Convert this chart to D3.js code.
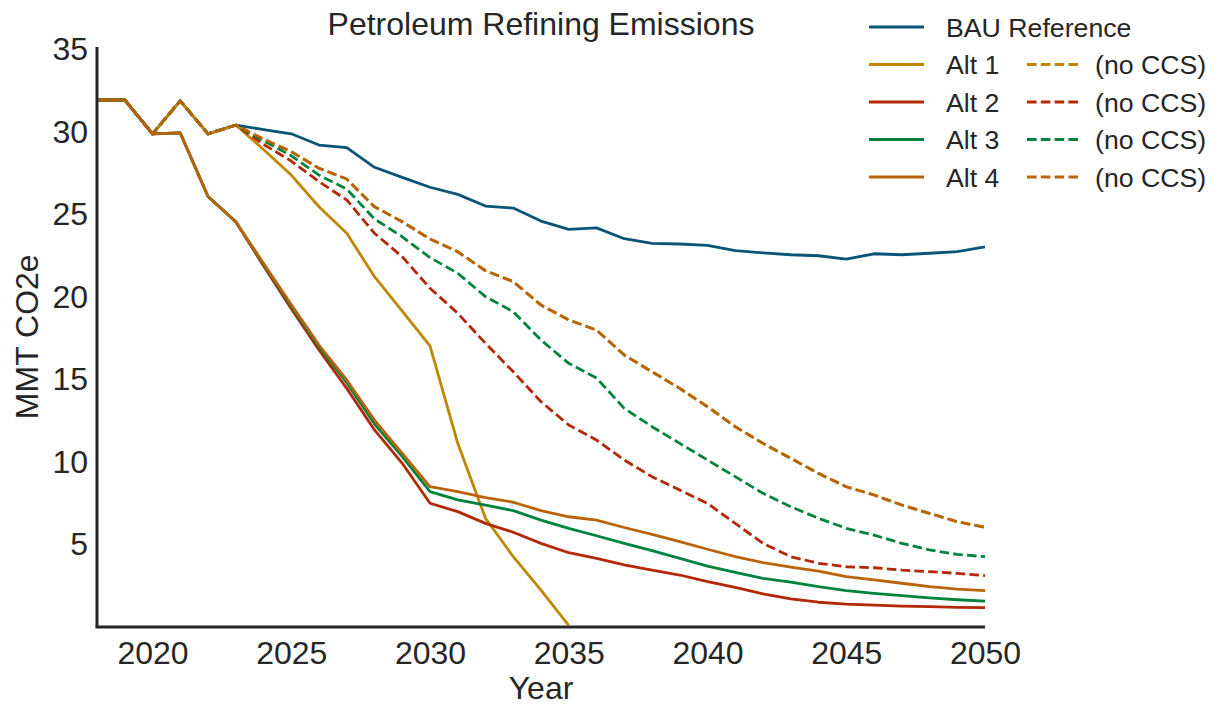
<!DOCTYPE html>
<html>
<head>
<meta charset="utf-8">
<script src="https://cdn.jsdelivr.net/npm/d3@7"></script>
<style>
  html, body { margin: 0; padding: 0; background: #fff; }
  svg text { font-family: "Liberation Sans", Arial, sans-serif; fill: #262626; }
</style>
</head>
<body>
<svg id="chart" width="1228" height="706"></svg>
<script>
// Years on the horizontal axis
const years = d3.range(2018, 2051);

// Emissions in MMT CO2e, one value per year from 2018
const bauReference = [31.85, 31.85, 29.8, 31.8, 29.8, 30.33, 30.06, 29.8, 29.12, 28.96, 27.77, 27.16, 26.56, 26.13, 25.42, 25.3, 24.51, 24.01, 24.1, 23.44, 23.16, 23.12, 23.04, 22.72, 22.58, 22.47, 22.41, 22.21, 22.53, 22.47, 22.56, 22.66, 22.94];
const alt1 = [31.85, 31.85, 29.8, 31.8, 29.8, 30.33, 28.85, 27.3, 25.38, 23.77, 21.14, 19.05, 16.95, 11.04, 6.5, 4.17, 2.15, 0.0];
const alt2 = [31.85, 31.85, 29.8, 29.85, 26.0, 24.47, 21.8, 19.2, 16.7, 14.37, 11.85, 9.83, 7.41, 6.9, 6.19, 5.65, 4.98, 4.41, 4.07, 3.68, 3.36, 3.06, 2.66, 2.31, 1.91, 1.62, 1.41, 1.3, 1.24, 1.18, 1.14, 1.1, 1.08];
const alt3 = [31.85, 31.85, 29.8, 29.85, 26.0, 24.47, 21.9, 19.35, 16.88, 14.72, 12.21, 10.23, 8.11, 7.61, 7.3, 6.96, 6.39, 5.89, 5.44, 4.98, 4.54, 4.07, 3.6, 3.22, 2.86, 2.63, 2.35, 2.11, 1.95, 1.81, 1.67, 1.56, 1.48];
const alt4 = [31.85, 31.85, 29.8, 29.85, 26.0, 24.47, 21.95, 19.45, 17.0, 14.88, 12.45, 10.43, 8.41, 8.11, 7.75, 7.47, 6.96, 6.59, 6.39, 5.94, 5.52, 5.08, 4.62, 4.17, 3.81, 3.54, 3.3, 2.96, 2.76, 2.56, 2.35, 2.21, 2.11];
const alt1NoCCS = [31.85, 31.85, 29.8, 31.8, 29.8, 30.33, 29.48, 28.72, 27.71, 27.06, 25.38, 24.47, 23.42, 22.65, 21.5, 20.84, 19.42, 18.52, 17.91, 16.39, 15.38, 14.37, 13.26, 12.05, 11.04, 10.13, 9.22, 8.41, 7.91, 7.3, 6.8, 6.29, 5.95];
const alt2NoCCS = [31.85, 31.85, 29.8, 31.8, 29.8, 30.33, 29.16, 28.15, 26.9, 25.79, 23.77, 22.35, 20.44, 18.92, 17.1, 15.38, 13.56, 12.15, 11.24, 10.03, 9.02, 8.21, 7.4, 6.19, 4.98, 4.17, 3.77, 3.56, 3.5, 3.36, 3.26, 3.16, 3.02];
const alt3NoCCS = [31.85, 31.85, 29.8, 31.8, 29.8, 30.33, 29.38, 28.47, 27.3, 26.45, 24.64, 23.56, 22.3, 21.35, 19.93, 19.02, 17.3, 15.89, 15.0, 13.16, 12.05, 11.04, 10.03, 9.02, 8.01, 7.2, 6.5, 5.89, 5.48, 4.98, 4.58, 4.31, 4.17];
const alt4NoCCS = [31.85, 31.85, 29.8, 31.8, 29.8, 30.33, 29.48, 28.72, 27.71, 27.06, 25.38, 24.47, 23.42, 22.65, 21.5, 20.84, 19.42, 18.52, 17.91, 16.39, 15.38, 14.37, 13.26, 12.05, 11.04, 10.13, 9.22, 8.41, 7.91, 7.3, 6.8, 6.29, 5.95];

// Axis ticks
const xTicks = [2020, 2025, 2030, 2035, 2040, 2045, 2050];
const yTicks = [5, 10, 15, 20, 25, 30, 35];

// Series, in drawing order (solid first, dashed "no CCS" on top)
const series = [
  { name: "BAU Reference", values: bauReference, color: "#0b5476", dashed: false },
  { name: "Alt 1", values: alt1, color: "#bf8700", dashed: false },
  { name: "Alt 2", values: alt2, color: "#b32808", dashed: false },
  { name: "Alt 3", values: alt3, color: "#00843d", dashed: false },
  { name: "Alt 4", values: alt4, color: "#b9640a", dashed: false },
  { name: "(no CCS)", values: alt1NoCCS, color: "#bf8700", dashed: true },
  { name: "(no CCS)", values: alt2NoCCS, color: "#b32808", dashed: true },
  { name: "(no CCS)", values: alt3NoCCS, color: "#00843d", dashed: true },
  { name: "(no CCS)", values: alt4NoCCS, color: "#b9640a", dashed: true }
];

const svg = d3.select("#chart");
const plot = { left: 97, right: 985, top: 48, bottom: 625.5 };

const x = d3.scaleLinear().domain([2018, 2050]).range([plot.left, plot.right]);
const y = d3.scaleLinear().domain([0, 35]).range([plot.bottom, plot.top]);

const LW = 2.8;
const DASH = "9.6,4.2";
const FONT = "32px";
const LEGEND_FONT = "26.7px";

svg.append("defs").append("clipPath").attr("id", "plotclip")
  .append("rect")
  .attr("x", plot.left).attr("y", plot.top - 5)
  .attr("width", plot.right - plot.left + 5)
  .attr("height", plot.bottom - plot.top + 5);

// Lines
const line = d3.line()
  .x((d, i) => x(years[i]))
  .y(d => y(d));

const lines = svg.append("g").attr("clip-path", "url(#plotclip)");
series.forEach(s => {
  lines.append("path")
    .datum(s.values)
    .attr("d", line)
    .attr("fill", "none")
    .attr("stroke", s.color)
    .attr("stroke-width", LW)
    .attr("stroke-linejoin", "round")
    .attr("stroke-dasharray", s.dashed ? DASH : null);
});

// Axes (no tick marks, only labels and spines)
const xAxis = d3.axisBottom(x).tickValues(xTicks).tickFormat(d3.format("d")).tickSize(0);
const yAxis = d3.axisLeft(y).tickValues(yTicks).tickSize(0).tickPadding(9);

const gx = svg.append("g").attr("transform", `translate(0,${plot.bottom})`).call(xAxis);
const gy = svg.append("g").attr("transform", `translate(${plot.left},0)`).call(yAxis);
[gx, gy].forEach(g => {
  g.select(".domain").remove();
  g.selectAll("text").style("font-size", FONT).attr("fill", "#262626");
});
gx.selectAll("text").attr("y", 38.5).attr("dy", 0);
gy.selectAll("text").attr("dy", "0.36em");

// Spines
svg.append("line")
  .attr("x1", plot.left).attr("x2", plot.left)
  .attr("y1", plot.top - 1).attr("y2", plot.bottom + 1.5)
  .attr("stroke", "#262626").attr("stroke-width", 3);
svg.append("line")
  .attr("x1", plot.left - 1.5).attr("x2", plot.right)
  .attr("y1", plot.bottom + 1.5).attr("y2", plot.bottom + 1.5)
  .attr("stroke", "#262626").attr("stroke-width", 3);

// Title and axis labels
svg.append("text")
  .attr("x", (plot.left + plot.right) / 2).attr("y", 35)
  .attr("text-anchor", "middle")
  .style("font-size", FONT)
  .text("Petroleum Refining Emissions");

svg.append("text")
  .attr("x", (plot.left + plot.right) / 2).attr("y", 699)
  .attr("text-anchor", "middle")
  .style("font-size", FONT)
  .text("Year");

svg.append("text")
  .attr("transform", `translate(38,${(plot.top + plot.bottom) / 2}) rotate(-90)`)
  .attr("text-anchor", "middle")
  .style("font-size", FONT)
  .text("MMT CO2e");

// Legend: first column solid scenarios, second column dashed "no CCS" variants
const legend = svg.append("g");
const rowY = [27, 64.5, 102, 139.5, 177];
const col1 = series.filter(s => !s.dashed);
const col2 = series.filter(s => s.dashed);

col1.forEach((s, i) => {
  legend.append("line")
    .attr("x1", 869).attr("x2", 924)
    .attr("y1", rowY[i]).attr("y2", rowY[i])
    .attr("stroke", s.color).attr("stroke-width", LW);
  legend.append("text")
    .attr("x", 946).attr("y", rowY[i]).attr("dy", "0.36em")
    .style("font-size", LEGEND_FONT)
    .text(s.name);
});
col2.forEach((s, i) => {
  legend.append("line")
    .attr("x1", 1027).attr("x2", 1081)
    .attr("y1", rowY[i + 1]).attr("y2", rowY[i + 1])
    .attr("stroke", s.color).attr("stroke-width", LW)
    .attr("stroke-dasharray", DASH);
  legend.append("text")
    .attr("x", 1095).attr("y", rowY[i + 1]).attr("dy", "0.36em")
    .style("font-size", LEGEND_FONT)
    .text(s.name);
});
</script>
</body>
</html>
